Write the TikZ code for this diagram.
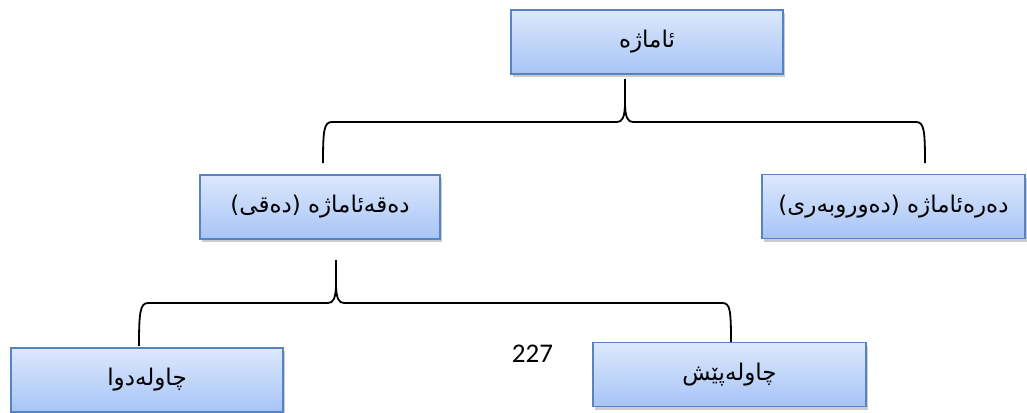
\documentclass[tikz,border=0pt]{standalone}
\usepackage{fontspec}
\TeXXeTstate=1
\newfontfamily\arabicfont[Script=Arabic]{DejaVu Sans}
\newfontfamily\numfont{Carlito}
\usetikzlibrary{calc,shadows}
\definecolor{boxtop}{HTML}{DCE8FC}
\definecolor{boxbot}{HTML}{A7C4F6}
\definecolor{boxline}{HTML}{5683C4}
\tikzset{
  box/.style={draw=boxline, line width=1.3pt, top color=boxtop, bottom color=boxbot,
    minimum height=64pt, inner sep=0pt, font=\arabicfont\fontsize{23}{27}\selectfont,
    drop shadow={shadow xshift=2pt, shadow yshift=-3pt, opacity=0.4, fill=gray}},
  brace/.style={line width=1.8pt, black}
}
\newcommand{\bracepath}[4]{% tip, left end, right end, y of line (name)
  \draw[brace] (#2) .. controls ($(#2)+(0,-33)$) and ($(#2|-#4)+(1,0)$) .. ($(#2|-#4)+(9,0)$)
    -- ($(#1|-#4)+(-8,0)$) .. controls ($(#1|-#4)+(-3,0)$) and ($(#1|-#4)+(0,-4)$) .. ($(#1|-#4)+(0,-20)$)
    -- (#1);
  \draw[brace] (#3) .. controls ($(#3)+(0,-33)$) and ($(#3|-#4)+(-1,0)$) .. ($(#3|-#4)+(-9,0)$)
    -- ($(#1|-#4)+(8,0)$) .. controls ($(#1|-#4)+(3,0)$) and ($(#1|-#4)+(0,-4)$) .. ($(#1|-#4)+(0,-20)$);
}
\begin{document}
\begin{tikzpicture}[x=1pt,y=-1pt]
\useasboundingbox (0,0) rectangle (1027,412);
\node[box, minimum width=272pt] (top) at (647,42) {\beginR ئاماژە\endR};
\node[box, minimum width=240pt] (ml) at (320,207) {\beginR دەقەئاماژە (دەقی)\endR};
\node[box, minimum width=263pt] (mr) at (893.5,206.5) {\beginR دەرەئاماژە (دەوروبەری)\endR};
\node[box, minimum width=272pt] (bl) at (147,380) {\beginR چاولەدوا\endR};
\node[box, minimum width=273pt] (br) at (729.5,374.5) {\beginR چاولەپێش\endR};
\node[font=\numfont\fontsize{27}{30}\selectfont, inner sep=0pt] (pg) at (532.5,354) {227};
% top brace
\coordinate (t1) at (625,79);
\coordinate (l1) at (323,163);
\coordinate (r1) at (925,163);
\coordinate (h1) at (0,122);
\bracepath{t1}{l1}{r1}{h1}
% lower brace
\coordinate (t2) at (336,260);
\coordinate (l2) at (139,346);
\coordinate (r2) at (731,342);
\coordinate (h2) at (0,303);
\bracepath{t2}{l2}{r2}{h2}
\end{tikzpicture}
\end{document}
